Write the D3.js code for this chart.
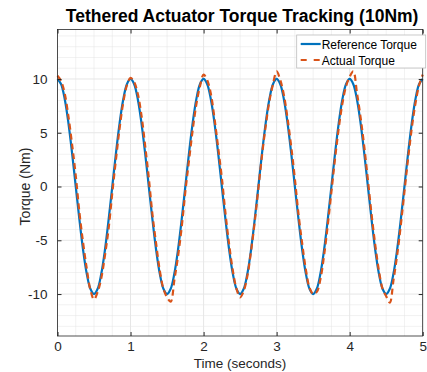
<!DOCTYPE html>
<html>
<head>
<meta charset="utf-8">
<script src="https://cdn.jsdelivr.net/npm/d3@7"></script>
<style>
  body { margin: 0; background: #fff; }
  text { font-family: "Liberation Sans", Arial, Helvetica, sans-serif; }
</style>
</head>
<body>
<div id="chart"></div>
<script>
// sample times (s), 0.05 s step
const timeValues = d3.range(0, 101).map(i => +(i * 0.05).toFixed(2));

// reference torque (Nm)
const referenceTorque = [
  10, 9.51, 8.09, 5.88, 3.09, 0, -3.09, -5.88, -8.09, -9.51,
  -10, -9.51, -8.09, -5.88, -3.09, 0, 3.09, 5.88, 8.09, 9.51,
  10, 9.51, 8.09, 5.88, 3.09, 0, -3.09, -5.88, -8.09, -9.51,
  -10, -9.51, -8.09, -5.88, -3.09, 0, 3.09, 5.88, 8.09, 9.51,
  10, 9.51, 8.09, 5.88, 3.09, 0, -3.09, -5.88, -8.09, -9.51,
  -10, -9.51, -8.09, -5.88, -3.09, 0, 3.09, 5.88, 8.09, 9.51,
  10, 9.51, 8.09, 5.88, 3.09, 0, -3.09, -5.88, -8.09, -9.51,
  -10, -9.51, -8.09, -5.88, -3.09, 0, 3.09, 5.88, 8.09, 9.51,
  10, 9.51, 8.09, 5.88, 3.09, 0, -3.09, -5.88, -8.09, -9.51,
  -10, -9.51, -8.09, -5.88, -3.09, 0, 3.09, 5.88, 8.09, 9.51,
  10
];

const actualTorque = [
  10.3, 9.8, 8.6, 6.5, 3.9, 1.0, -2.4, -5.2, -7.6, -9.6,
  -10.5, -9.8, -8.5, -6.4, -3.9, -0.6, 2.5, 5.4, 7.8, 9.4,
  10.1, 9.7, 8.6, 6.6, 3.8, 0.8, -2.6, -5.3, -7.8, -9.5,
  -10.3, -10.7, -8.7, -6.5, -3.8, -0.5, 2.4, 5.2, 7.6, 9.3,
  10.4, 9.9, 8.6, 6.3, 3.6, 0.8, -2.5, -5.4, -7.8, -9.5,
  -10.3, -9.7, -8.3, -6.0, -3.3, -0.2, 2.9, 5.6, 7.9, 9.5,
  10.7, 9.9, 8.5, 6.3, 3.7, 0.7, -2.6, -5.3, -7.7, -9.4,
  -10.0, -9.8, -8.6, -6.4, -3.6, -0.5, 2.6, 5.4, 7.7, 9.3,
  10.2, 10.7, 8.7, 6.4, 3.7, 0.6, -2.6, -5.4, -7.8, -9.5,
  -10.2, -10.8, -8.7, -6.4, -3.6, -0.5, 2.6, 5.4, 7.7, 9.4,
  10.4
];

const xTicks = [0, 1, 2, 3, 4, 5];
const yTicks = [-10, -5, 0, 5, 10];
const seriesNames = ['Reference Torque', 'Actual Torque'];

const width = 427;
const height = 372;
const margin = { top: 29.5, right: 4.3, bottom: 36, left: 57.5 };
const innerW = width - margin.left - margin.right;
const innerH = height - margin.top - margin.bottom;

const blue = '#0072BD';
const orange = '#D95319';
const axisColor = '#262626';

const svg = d3
  .select('#chart')
  .append('svg')
  .attr('width', width)
  .attr('height', height);

const x = d3.scaleLinear().domain([0, 5]).range([0, innerW]);
const y = d3.scaleLinear().domain([-13.9, 14.6]).range([innerH, 0]);

const g = svg.append('g').attr('transform', `translate(${margin.left},${margin.top})`);

// minor grid
g.append('g')
  .selectAll('line')
  .data(d3.range(0, 5.001, 0.25).filter(v => Math.abs(v - Math.round(v)) > 1e-6))
  .enter()
  .append('line')
  .attr('x1', d => x(d)).attr('x2', d => x(d))
  .attr('y1', 0).attr('y2', innerH)
  .attr('stroke', '#e3e3e3').attr('stroke-dasharray', '1,1');

g.append('g')
  .selectAll('line')
  .data(d3.range(-13, 15, 1).filter(v => v % 5 !== 0))
  .enter()
  .append('line')
  .attr('x1', 0).attr('x2', innerW)
  .attr('y1', d => y(d)).attr('y2', d => y(d))
  .attr('stroke', '#e3e3e3').attr('stroke-dasharray', '1,1');

// major grid
g.append('g')
  .selectAll('line')
  .data(xTicks)
  .enter()
  .append('line')
  .attr('x1', d => x(d)).attr('x2', d => x(d))
  .attr('y1', 0).attr('y2', innerH)
  .attr('stroke', '#e6e6e6');

g.append('g')
  .selectAll('line')
  .data(yTicks)
  .enter()
  .append('line')
  .attr('x1', 0).attr('x2', innerW)
  .attr('y1', d => y(d)).attr('y2', d => y(d))
  .attr('stroke', '#e6e6e6');

// lines
const refData = timeValues.map((t, i) => [t, referenceTorque[i]]);
const actData = timeValues.map((t, i) => [t, actualTorque[i]]);

const line = d3
  .line()
  .x(d => x(d[0]))
  .y(d => y(d[1]))
  .curve(d3.curveCatmullRom);

g.append('path')
  .datum(refData)
  .attr('d', line)
  .attr('fill', 'none')
  .attr('stroke', blue)
  .attr('stroke-width', 2.2);

g.append('path')
  .datum(actData)
  .attr('d', line)
  .attr('fill', 'none')
  .attr('stroke', orange)
  .attr('stroke-width', 2.2)
  .attr('stroke-dasharray', '6,4');

// axes (ticks inside, MATLAB style)
const styleAxis = sel => {
  sel.select('.domain').remove();
  sel.selectAll('.tick line').attr('stroke', axisColor);
  sel.selectAll('.tick text').attr('fill', axisColor).style('font-size', '13.5px');
};

g.append('g')
  .attr('transform', `translate(0,${innerH})`)
  .call(d3.axisBottom(x).tickValues(xTicks).tickSizeInner(-4).tickSizeOuter(0).tickPadding(5).tickFormat(d => String(d)))
  .call(styleAxis);

g.append('g')
  .call(d3.axisTop(x).tickValues(xTicks).tickSizeInner(-4).tickSizeOuter(0).tickFormat(''))
  .call(styleAxis);

g.append('g')
  .call(d3.axisLeft(y).tickValues(yTicks).tickSizeInner(-4).tickSizeOuter(0).tickPadding(10).tickFormat(d => String(d)))
  .call(styleAxis);

g.append('g')
  .attr('transform', `translate(${innerW},0)`)
  .call(d3.axisRight(y).tickValues(yTicks).tickSizeInner(-4).tickSizeOuter(0).tickFormat(''))
  .call(styleAxis);

// box
g.append('rect')
  .attr('width', innerW)
  .attr('height', innerH)
  .attr('fill', 'none')
  .attr('stroke', axisColor)
  .attr('stroke-width', 0.8);

// title and labels
svg.append('text')
  .attr('x', margin.left + innerW / 2 + 2)
  .attr('y', 22)
  .attr('text-anchor', 'middle')
  .style('font-size', '17.5px')
  .style('font-weight', 'bold')
  .attr('fill', '#000')
  .text('Tethered Actuator Torque Tracking (10Nm)');

svg.append('text')
  .attr('x', margin.left + innerW / 2)
  .attr('y', 368)
  .attr('text-anchor', 'middle')
  .style('font-size', '13.5px')
  .attr('fill', axisColor)
  .text('Time (seconds)');

svg.append('text')
  .attr('transform', `translate(30,${y(0) + margin.top}) rotate(-90)`)
  .attr('text-anchor', 'middle')
  .style('font-size', '14px')
  .attr('fill', axisColor)
  .text('Torque (Nm)');

// legend
const legend = svg.append('g').attr('transform', 'translate(296.7,35)');
legend.append('rect')
  .attr('width', 129)
  .attr('height', 33)
  .attr('fill', '#fff')
  .attr('stroke', '#bdbdbd')
  .attr('stroke-width', 0.8);

const legendColors = [blue, orange];
seriesNames.forEach((name, i) => {
  const row = legend.append('g').attr('transform', `translate(0,${9 + i * 16})`);
  row.append('line')
    .attr('x1', 4).attr('x2', 24)
    .attr('y1', 0).attr('y2', 0)
    .attr('stroke', legendColors[i])
    .attr('stroke-width', 2.2)
    .attr('stroke-dasharray', i === 1 ? '6,7' : null);
  row.append('text')
    .attr('x', 25)
    .attr('y', 4.5)
    .style('font-size', '12px')
    .attr('fill', '#000')
    .text(name);
});
</script>
</body>
</html>
